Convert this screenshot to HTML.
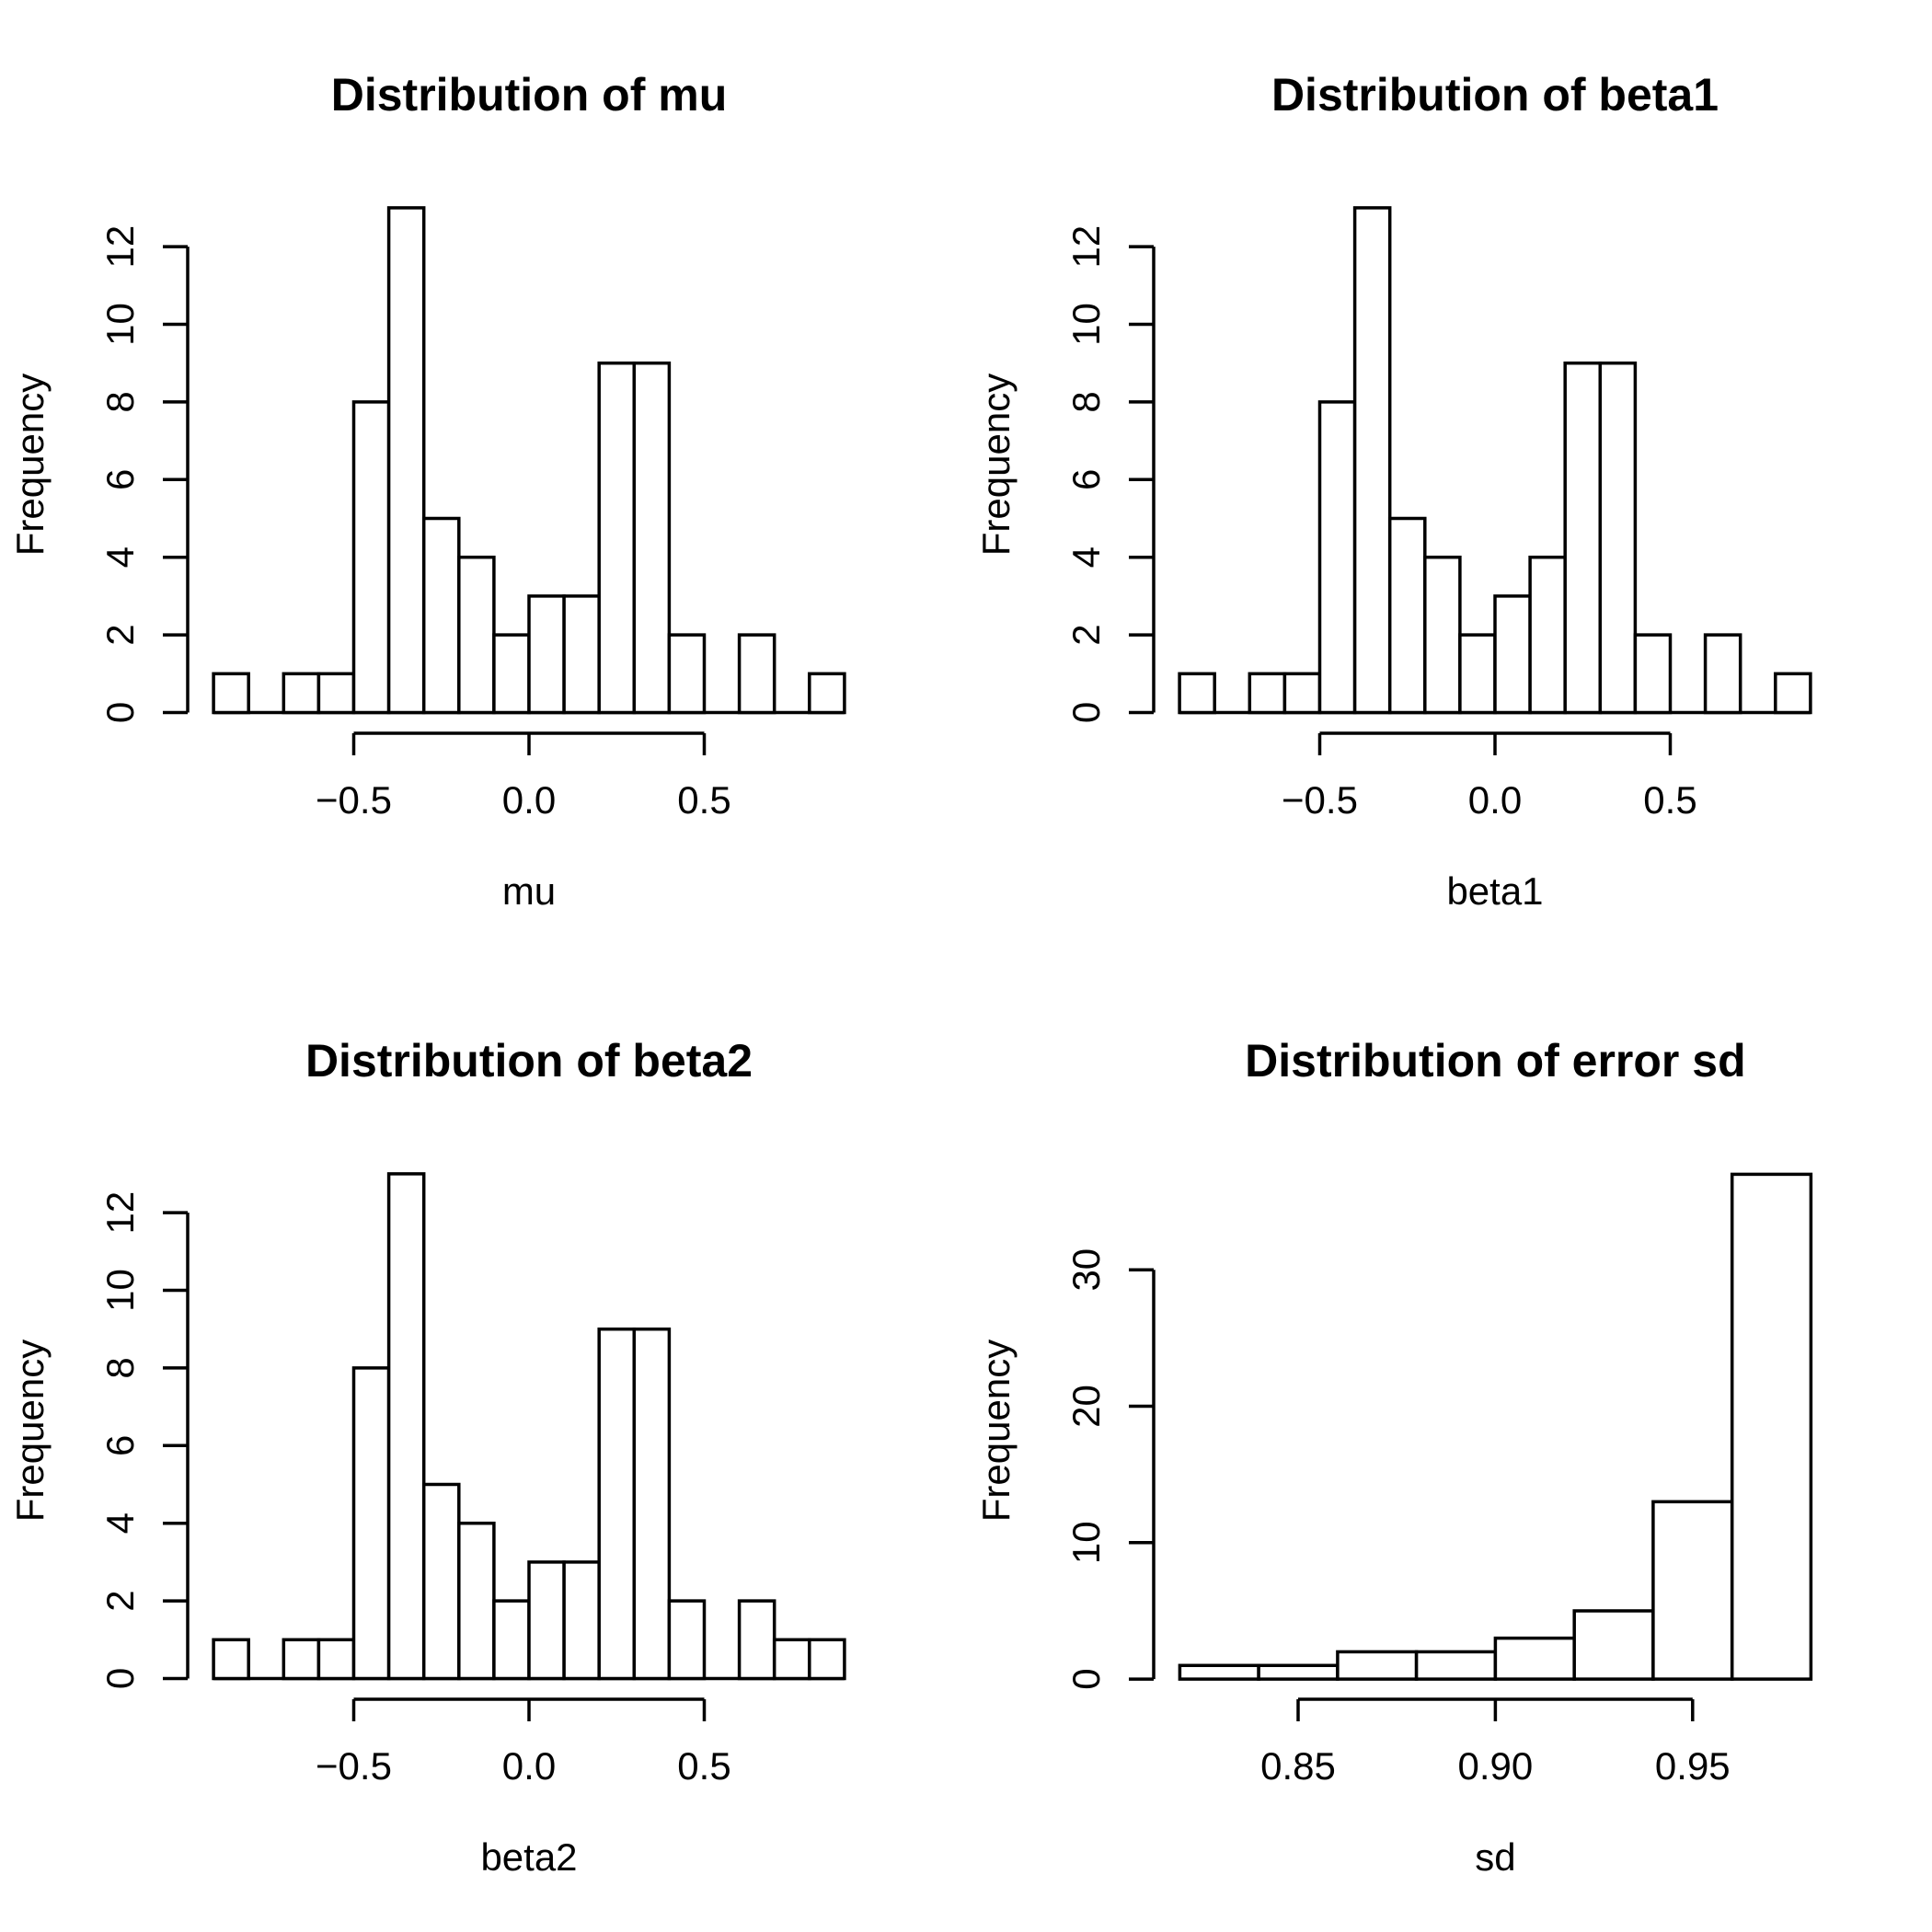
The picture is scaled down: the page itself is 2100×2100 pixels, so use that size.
<!DOCTYPE html>
<html><head><meta charset="utf-8"><style>
html,body{margin:0;padding:0;background:#fff;}
svg{display:block;}
text{font-family:"Liberation Sans",sans-serif;fill:#000;}
.t{font-size:50px;font-weight:bold;text-anchor:middle;}
.l{font-size:42px;text-anchor:middle;}
</style></head><body>
<svg width="2100" height="2100" viewBox="0 0 2100 2100" xmlns="http://www.w3.org/2000/svg">
<rect width="2100" height="2100" fill="#fff"/>
<defs>
<g id="yax">
<path d="M204,268.1V774.5M177,774.5H204M177,690.1H204M177,605.7H204M177,521.3H204M177,436.9H204M177,352.5H204M177,268.1H204" stroke="#000" stroke-width="3.5" fill="none"/>
<text class="l" transform="translate(145,774.5) rotate(-90)">0</text>
<text class="l" transform="translate(145,690.1) rotate(-90)">2</text>
<text class="l" transform="translate(145,605.7) rotate(-90)">4</text>
<text class="l" transform="translate(145,521.3) rotate(-90)">6</text>
<text class="l" transform="translate(145,436.9) rotate(-90)">8</text>
<text class="l" transform="translate(145,352.5) rotate(-90)">10</text>
<text class="l" transform="translate(145,268.1) rotate(-90)">12</text>
<text class="l" transform="translate(47,505) rotate(-90)">Frequency</text>
<path d="M384.5,797H765.5M384.5,797V821M575,797V821M765.5,797V821" stroke="#000" stroke-width="3.5" fill="none"/>
<text class="l" x="384.5" y="884">−0.5</text>
<text class="l" x="575" y="884">0.0</text>
<text class="l" x="765.5" y="884">0.5</text>
<path d="M232.1,774.5H917.9" stroke="#000" stroke-width="3.5"/>
</g>
</defs>
<!-- Panel 1 -->
<g>
<use href="#yax"/>
<text class="t" x="575" y="120">Distribution of mu</text>
<text class="l" x="575" y="983">mu</text>
<g stroke="#000" stroke-width="3.5" fill="#fff">
<rect x="232.1" y="732.3" width="38.1" height="42.2"/>
<rect x="308.3" y="732.3" width="38.1" height="42.2"/>
<rect x="346.4" y="732.3" width="38.1" height="42.2"/>
<rect x="384.5" y="436.9" width="38.1" height="337.6"/>
<rect x="422.6" y="225.9" width="38.1" height="548.6"/>
<rect x="460.7" y="563.5" width="38.1" height="211"/>
<rect x="498.8" y="605.7" width="38.1" height="168.8"/>
<rect x="536.9" y="690.1" width="38.1" height="84.4"/>
<rect x="575" y="647.9" width="38.1" height="126.6"/>
<rect x="613.1" y="647.9" width="38.1" height="126.6"/>
<rect x="651.2" y="394.7" width="38.1" height="379.8"/>
<rect x="689.3" y="394.7" width="38.1" height="379.8"/>
<rect x="727.4" y="690.1" width="38.1" height="84.4"/>
<rect x="803.6" y="690.1" width="38.1" height="84.4"/>
<rect x="879.8" y="732.3" width="38.1" height="42.2"/>
</g>
</g>
<!-- Panel 2 -->
<g transform="translate(1050,0)">
<use href="#yax"/>
<text class="t" x="575" y="120">Distribution of beta1</text>
<text class="l" x="575" y="983">beta1</text>
<g stroke="#000" stroke-width="3.5" fill="#fff">
<rect x="232.1" y="732.3" width="38.1" height="42.2"/>
<rect x="308.3" y="732.3" width="38.1" height="42.2"/>
<rect x="346.4" y="732.3" width="38.1" height="42.2"/>
<rect x="384.5" y="436.9" width="38.1" height="337.6"/>
<rect x="422.6" y="225.9" width="38.1" height="548.6"/>
<rect x="460.7" y="563.5" width="38.1" height="211"/>
<rect x="498.8" y="605.7" width="38.1" height="168.8"/>
<rect x="536.9" y="690.1" width="38.1" height="84.4"/>
<rect x="575" y="647.9" width="38.1" height="126.6"/>
<rect x="613.1" y="605.7" width="38.1" height="168.8"/>
<rect x="651.2" y="394.7" width="38.1" height="379.8"/>
<rect x="689.3" y="394.7" width="38.1" height="379.8"/>
<rect x="727.4" y="690.1" width="38.1" height="84.4"/>
<rect x="803.6" y="690.1" width="38.1" height="84.4"/>
<rect x="879.8" y="732.3" width="38.1" height="42.2"/>
</g>
</g>
<!-- Panel 3 -->
<g transform="translate(0,1050)">
<use href="#yax"/>
<text class="t" x="575" y="120">Distribution of beta2</text>
<text class="l" x="575" y="983">beta2</text>
<g stroke="#000" stroke-width="3.5" fill="#fff">
<rect x="232.1" y="732.3" width="38.1" height="42.2"/>
<rect x="308.3" y="732.3" width="38.1" height="42.2"/>
<rect x="346.4" y="732.3" width="38.1" height="42.2"/>
<rect x="384.5" y="436.9" width="38.1" height="337.6"/>
<rect x="422.6" y="225.9" width="38.1" height="548.6"/>
<rect x="460.7" y="563.5" width="38.1" height="211"/>
<rect x="498.8" y="605.7" width="38.1" height="168.8"/>
<rect x="536.9" y="690.1" width="38.1" height="84.4"/>
<rect x="575" y="647.9" width="38.1" height="126.6"/>
<rect x="613.1" y="647.9" width="38.1" height="126.6"/>
<rect x="651.2" y="394.7" width="38.1" height="379.8"/>
<rect x="689.3" y="394.7" width="38.1" height="379.8"/>
<rect x="727.4" y="690.1" width="38.1" height="84.4"/>
<rect x="803.6" y="690.1" width="38.1" height="84.4"/>
<rect x="841.7" y="732.3" width="38.1" height="42.2"/>
<rect x="879.8" y="732.3" width="38.1" height="42.2"/>
</g>
</g>
<!-- Panel 4 -->
<g>
<text class="t" x="1625.4" y="1170">Distribution of error sd</text>
<text class="l" x="1625.4" y="2033">sd</text>
<text class="l" transform="translate(1097,1555) rotate(-90)">Frequency</text>
<path d="M1254,1380.2V1825.1M1227,1825.1H1254M1227,1676.8H1254M1227,1528.5H1254M1227,1380.2H1254" stroke="#000" stroke-width="3.5" fill="none"/>
<text class="l" transform="translate(1195,1825.1) rotate(-90)">0</text>
<text class="l" transform="translate(1195,1676.8) rotate(-90)">10</text>
<text class="l" transform="translate(1195,1528.5) rotate(-90)">20</text>
<text class="l" transform="translate(1195,1380.2) rotate(-90)">30</text>
<path d="M1411,1847H1839.8M1411,1847V1871M1625.4,1847V1871M1839.8,1847V1871" stroke="#000" stroke-width="3.5" fill="none"/>
<text class="l" x="1411" y="1934">0.85</text>
<text class="l" x="1625.4" y="1934">0.90</text>
<text class="l" x="1839.8" y="1934">0.95</text>
<g stroke="#000" stroke-width="3.5" fill="#fff">
<rect x="1282.4" y="1810.27" width="85.7" height="14.83"/>
<rect x="1368.1" y="1810.27" width="85.8" height="14.83"/>
<rect x="1453.9" y="1795.44" width="85.7" height="29.66"/>
<rect x="1539.6" y="1795.44" width="85.8" height="29.66"/>
<rect x="1625.4" y="1780.61" width="85.8" height="44.49"/>
<rect x="1711.2" y="1750.95" width="85.7" height="74.15"/>
<rect x="1796.9" y="1632.3" width="85.8" height="192.8"/>
<rect x="1882.7" y="1276.4" width="85.7" height="548.7"/>
</g>
</g>
</svg>
</body></html>
